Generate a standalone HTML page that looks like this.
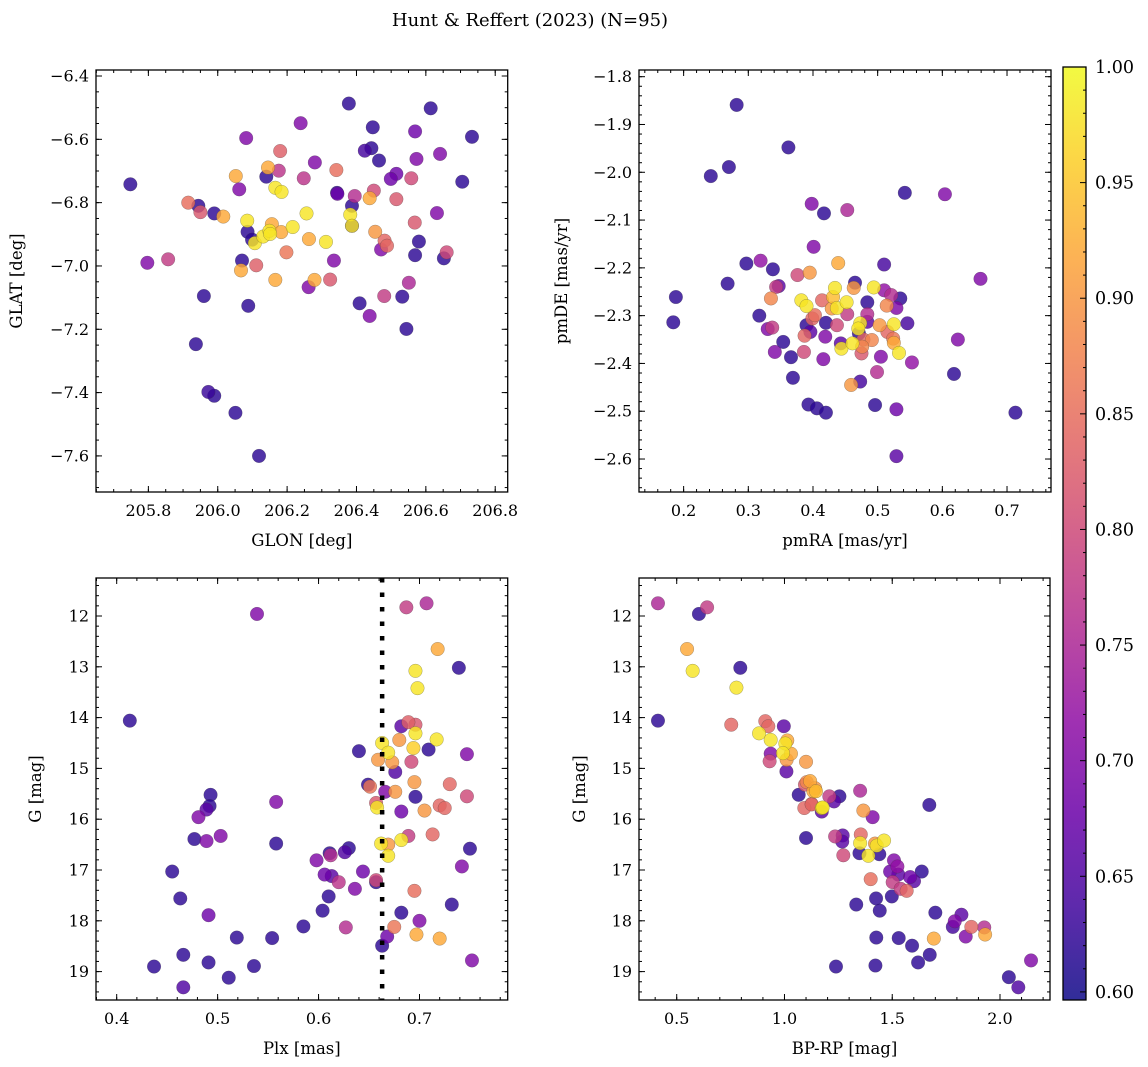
<!DOCTYPE html>
<html><head><meta charset="utf-8">
<style>
html,body{margin:0;padding:0;background:#fff;}
svg{display:block;font-family:"DejaVu Serif","Liberation Serif",serif;}
</style></head>
<body>
<svg id="fig" width="1148" height="1067" viewBox="0 0 1148 1067" xmlns="http://www.w3.org/2000/svg">
<text x="530" y="26" font-size="18" text-anchor="middle">Hunt &amp; Reffert (2023) (N=95)</text>
</svg>
<script>
// ---- Panel 1: GLON / GLAT ----
const p1Glon=[205.748,205.797,205.857,205.915,205.944,205.950,205.990,206.016,205.960,205.937,205.973,205.990,206.051,206.119,206.082,206.052,206.062,206.085,206.086,206.070,206.067,206.111,206.088,206.107,206.099,206.131,206.140,206.145,206.166,206.184,206.149,206.156,206.151,206.183,206.180,206.176,206.198,206.166,206.216,206.239,206.256,206.263,206.312,206.262,206.279,206.324,206.335,206.248,206.280,206.342,206.344,206.345,206.378,206.395,206.387,206.382,206.387,206.387,206.438,206.450,206.454,206.481,206.488,206.471,206.447,206.424,206.443,206.465,206.409,206.438,206.480,206.515,206.499,206.515,206.558,206.569,206.573,206.568,206.580,206.569,206.551,206.532,206.544,206.614,206.641,206.632,206.652,206.660,206.705,206.733];
const p1Glat=[-6.742,-6.990,-6.979,-6.800,-6.810,-6.830,-6.834,-6.844,-7.095,-7.247,-7.398,-7.410,-7.464,-7.600,-6.596,-6.716,-6.758,-6.857,-6.892,-6.983,-7.014,-6.998,-7.126,-6.928,-6.917,-6.907,-6.718,-6.689,-6.753,-6.766,-6.889,-6.868,-6.899,-6.893,-6.637,-6.699,-6.957,-7.044,-6.877,-6.549,-6.834,-6.915,-6.924,-7.067,-7.044,-7.043,-6.983,-6.723,-6.673,-6.697,-6.769,-6.772,-6.487,-6.779,-6.810,-6.838,-6.873,-6.873,-6.786,-6.762,-6.892,-6.920,-6.936,-6.948,-6.562,-6.636,-6.628,-6.667,-7.118,-7.158,-7.095,-6.709,-6.725,-6.789,-6.723,-6.575,-6.662,-6.863,-6.923,-6.966,-7.053,-7.097,-7.199,-6.502,-6.646,-6.833,-6.976,-6.957,-6.734,-6.592];
const p1Prob=[.62,.70,.78,.85,.62,.82,.62,.92,.62,.62,.63,.62,.62,.62,.70,.92,.70,.98,.62,.62,.92,.83,.62,.98,.62,.98,.62,.92,.98,.98,.98,.92,.98,.92,.83,.77,.86,.92,.98,.70,.98,.92,.98,.70,.92,.82,.70,.77,.70,.85,.62,.68,.62,.76,.62,.98,.62,.98,.92,.80,.90,.84,.84,.70,.62,.64,.62,.62,.62,.70,.78,.68,.68,.82,.80,.68,.70,.82,.62,.62,.75,.62,.62,.62,.70,.70,.62,.80,.62,.62];
// ---- Panel 2: pmRA / pmDE ----
const p2Pmra=[.282,.362,.270,.242,.398,.417,.453,.401,.297,.319,.338,.376,.395,.439,.268,.347,.343,.335,.188,.184,.382,.390,.414,.434,.431,.429,.437,.403,.399,.317,.330,.337,.390,.396,.387,.420,.437,.419,.354,.341,.386,.366,.416,.369,.443,.444,.393,.406,.420,.542,.604,.510,.465,.463,.494,.510,.521,.535,.529,.514,.484,.452,.453,.484,.484,.473,.470,.471,.503,.525,.546,.515,.524,.525,.491,.478,.476,.461,.475,.533,.505,.624,.553,.499,.473,.459,.618,.659,.496,.529,.713,.529];
const p2Pmde=[-1.859,-1.948,-1.989,-2.008,-2.066,-2.086,-2.079,-2.156,-2.191,-2.185,-2.203,-2.215,-2.210,-2.190,-2.233,-2.238,-2.240,-2.264,-2.261,-2.314,-2.268,-2.280,-2.268,-2.242,-2.261,-2.285,-2.284,-2.299,-2.306,-2.300,-2.328,-2.325,-2.320,-2.334,-2.342,-2.315,-2.320,-2.344,-2.355,-2.376,-2.376,-2.387,-2.391,-2.430,-2.358,-2.369,-2.486,-2.494,-2.503,-2.043,-2.046,-2.193,-2.231,-2.242,-2.241,-2.247,-2.257,-2.264,-2.284,-2.279,-2.272,-2.272,-2.297,-2.297,-2.313,-2.316,-2.327,-2.337,-2.320,-2.318,-2.316,-2.334,-2.348,-2.357,-2.351,-2.350,-2.365,-2.358,-2.379,-2.378,-2.386,-2.350,-2.398,-2.418,-2.438,-2.445,-2.422,-2.223,-2.487,-2.496,-2.503,-2.594];
const p2Prob=[.62,.62,.62,.62,.70,.62,.75,.70,.62,.72,.62,.80,.90,.92,.62,.66,.78,.88,.62,.62,.98,.98,.84,.98,.94,.90,.98,.85,.84,.62,.70,.78,.62,.66,.84,.62,.80,.70,.62,.70,.80,.62,.70,.62,.66,.98,.62,.62,.62,.62,.70,.64,.62,.90,.98,.72,.76,.62,.70,.88,.62,.98,.78,.76,.66,.98,.98,.62,.90,.98,.64,.84,.86,.92,.88,.84,.88,.98,.82,.98,.70,.70,.72,.76,.64,.90,.62,.70,.62,.68,.62,.66];
// ---- Panel 3: Plx / G ----
const p3Plx=[.539,.413,.493,.492,.489,.481,.477,.489,.503,.558,.558,.455,.463,.491,.519,.554,.466,.437,.491,.536,.511,.466,.687,.707,.718,.739,.696,.698,.682,.689,.696,.696,.680,.717,.694,.709,.640,.663,.669,.659,.673,.692,.747,.676,.695,.730,.649,.651,.666,.676,.696,.747,.657,.658,.682,.705,.720,.725,.689,.682,.713,.662,.669,.669,.750,.742,.630,.626,.611,.612,.598,.606,.613,.620,.644,.657,.657,.636,.695,.610,.604,.732,.682,.700,.585,.627,.675,.697,.720,.668,.663,.752];
const p3G=[11.96,14.06,15.52,15.74,15.81,15.96,16.39,16.43,16.33,15.66,16.48,17.03,17.56,17.89,18.33,18.34,18.67,18.90,18.82,18.89,19.12,19.31,11.83,11.75,12.65,13.02,13.08,13.42,14.17,14.09,14.14,14.31,14.44,14.43,14.60,14.63,14.66,14.50,14.69,14.83,14.88,14.87,14.72,15.07,15.27,15.31,15.32,15.36,15.46,15.46,15.56,15.55,15.68,15.77,15.85,15.83,15.73,15.78,16.33,16.41,16.30,16.48,16.50,16.72,16.58,16.93,16.57,16.65,16.67,16.71,16.81,17.09,17.12,17.24,17.03,17.20,17.24,17.37,17.41,17.52,17.80,17.68,17.84,18.00,18.11,18.13,18.12,18.27,18.35,18.31,18.49,18.78];
const p3Prob=[.70,.62,.62,.62,.66,.70,.62,.70,.70,.70,.62,.62,.62,.68,.62,.62,.62,.62,.62,.62,.62,.65,.78,.75,.92,.62,.98,.98,.66,.83,.82,.98,.90,.98,.96,.62,.62,.98,.98,.90,.90,.80,.70,.65,.90,.84,.62,.86,.70,.90,.62,.80,.82,.98,.68,.90,.84,.84,.78,.98,.84,.98,.90,.98,.62,.70,.62,.65,.62,.76,.70,.68,.66,.77,.68,.80,.62,.70,.85,.62,.62,.62,.62,.70,.62,.76,.86,.92,.92,.68,.62,.70];
const plxRef=[0.663];
// ---- Panel 4: BP-RP / G ----
const p4Color=[.413,.603,.641,.548,.574,.795,.777,.413,.753,.911,.925,.997,.882,.936,1.013,1.004,1.030,.993,.936,.931,1.010,1.009,1.100,1.103,1.095,1.066,1.134,1.126,1.092,1.173,1.100,1.119,1.142,1.146,1.126,1.173,1.177,1.208,1.255,1.230,1.351,1.366,1.409,1.672,1.235,1.270,1.268,1.273,1.354,1.351,1.348,1.389,1.428,1.462,1.420,1.440,1.508,1.524,1.490,1.528,1.583,1.601,1.637,1.502,1.539,1.567,1.400,1.333,1.425,1.498,1.442,1.700,1.821,1.790,1.781,1.867,1.927,1.931,1.841,1.693,1.426,1.530,1.592,1.674,1.620,1.239,1.422,2.041,2.085,2.144];
const p4G=[11.75,11.96,11.83,12.65,13.08,13.02,13.41,14.06,14.14,14.07,14.17,14.17,14.31,14.44,14.45,14.51,14.71,14.70,14.71,14.86,14.83,15.06,14.87,15.27,15.32,15.52,15.45,15.70,15.78,15.78,16.37,15.25,15.39,15.45,15.71,15.85,15.77,15.55,15.55,15.65,15.44,15.83,15.96,15.72,16.34,16.32,16.44,16.71,16.30,16.47,16.67,16.72,16.52,16.42,16.48,16.69,16.81,16.93,17.03,17.09,17.14,17.22,17.03,17.24,17.37,17.41,17.18,17.68,17.56,17.52,17.80,17.84,17.88,18.01,18.12,18.12,18.13,18.27,18.31,18.35,18.33,18.34,18.49,18.67,18.82,18.90,18.88,19.11,19.31,18.78];
const p4Prob=[.75,.62,.78,.92,.98,.62,.98,.62,.84,.84,.84,.66,.98,.98,.92,.98,.92,.98,.70,.80,.90,.66,.90,.88,.82,.62,.92,.84,.84,.98,.62,.92,.90,.94,.84,.66,.98,.78,.62,.66,.75,.90,.70,.62,.78,.66,.66,.80,.84,.98,.62,.98,.98,.98,.90,.62,.70,.72,.68,.66,.68,.66,.62,.78,.78,.84,.85,.62,.62,.62,.62,.62,.66,.70,.64,.84,.76,.92,.70,.92,.62,.62,.62,.62,.62,.62,.62,.62,.65,.70];
// ---- Colorbar ----
const cbTicks=[0.60,0.65,0.70,0.75,0.80,0.85,0.90,0.95,1.00];
const vmin=0.5965, vmax=1.0;

const NS="http://www.w3.org/2000/svg";
const svg=document.getElementById('fig');
function mk(tag,attrs,parent){const e=document.createElementNS(NS,tag);for(const k in attrs)e.setAttribute(k,attrs[k]);(parent||svg).appendChild(e);return e;}
const plasmaStops=[[13,8,135],[65,4,157],[106,0,168],[143,13,164],[177,42,144],[204,71,120],[225,100,98],[242,132,75],[252,166,54],[252,206,37],[240,249,33]];
function plasma(t){t=Math.max(0,Math.min(1,t));const f=t*10,i=Math.min(9,Math.floor(f)),r=f-i;const a=plasmaStops[i],b=plasmaStops[i+1];return 'rgb('+a.map((v,k)=>Math.round(v+(b[k]-v)*r)).join(',')+')';}
function fmt(v,d){const s=Math.abs(v).toFixed(d);return (v< -1e-9?'\u2212':'')+s;}

function panel(cfg){
  const {name,L,T,R,B,xd,yd,xMaj,xMin,yMaj,yMin,xDec,yDec,xs,ys,ps,xlabel,ylabel,ylabX}=cfg;
  const sx=v=>L+(v-xd[0])/(xd[1]-xd[0])*(R-L);
  const sy=v=>T+(v-yd[0])/(yd[1]-yd[0])*(B-T);
  const g=mk('g',{});
  
  
  const clipId=name+'-clip';
  const cp=mk('clipPath',{id:clipId},g);mk('rect',{x:L,y:T,width:R-L,height:B-T},cp);
  const pts=mk('g',{'clip-path':'url(#'+clipId+')'},g);
  
  
  const idx=xs.map((_,i)=>i).sort((a,b)=>ps[a]-ps[b]);
  idx.forEach(i=>{
    const c=mk('circle',{cx:sx(xs[i]).toFixed(2),cy:sy(ys[i]).toFixed(2),r:6.8,fill:plasma((ps[i]-vmin)/(vmax-vmin)),'fill-opacity':0.82,stroke:'rgba(60,60,60,0.45)','stroke-width':0.5},pts);
    
    
  });
  if(cfg.extra)cfg.extra(g,sx,sy);
  const tk=mk('g',{stroke:'#000','stroke-width':1},g);
  const lo=(a,b)=>Math.min(a,b),hi=(a,b)=>Math.max(a,b);
  function ticksFor(d,step){const out=[];const s=Math.ceil(lo(d[0],d[1])/step-1e-6);for(let k=s;k*step<=hi(d[0],d[1])+1e-9;k++)out.push(+(k*step).toFixed(6));return out;}
  ticksFor(xd,xMin).forEach(v=>{const x=sx(v);mk('line',{x1:x,x2:x,y1:B,y2:B-3},tk);mk('line',{x1:x,x2:x,y1:T,y2:T+3},tk);});
  ticksFor(yd,yMin).forEach(v=>{const y=sy(v);mk('line',{x1:L,x2:L+3,y1:y,y2:y},tk);mk('line',{x1:R,x2:R-3,y1:y,y2:y},tk);});
  const labs=mk('g',{'font-size':16,fill:'#000'},g);
  ticksFor(xd,xMaj).forEach(v=>{const x=sx(v);mk('line',{x1:x,x2:x,y1:B,y2:B-6},tk);mk('line',{x1:x,x2:x,y1:T,y2:T+6},tk);
    const t=mk('text',{x:x,y:B+24,'text-anchor':'middle'},labs);t.textContent=fmt(v,xDec);
    
    });
  ticksFor(yd,yMaj).forEach(v=>{const y=sy(v);mk('line',{x1:L,x2:L+6,y1:y,y2:y},tk);mk('line',{x1:R,x2:R-6,y1:y,y2:y},tk);
    const t=mk('text',{x:L-7,y:y+5.5,'text-anchor':'end'},labs);t.textContent=fmt(v,yDec);
    
    });
  const fr=mk('rect',{x:L,y:T,width:R-L,height:B-T,fill:'none',stroke:'#000','stroke-width':1.3},g);
  
  
  const xl=mk('text',{x:(L+R)/2,y:B+54,'text-anchor':'middle','font-size':16.5},g);xl.textContent=xlabel;
  
  
  const ym=(T+B)/2;
  const yl=mk('text',{x:ylabX,y:ym,'text-anchor':'middle','font-size':16.5,transform:'rotate(-90 '+ylabX+' '+ym+')'},g);yl.textContent=ylabel;
  
  
}

panel({name:'glon-glat-panel',L:96,T:70,R:507.7,B:492,xd:[205.649,206.836],yd:[-6.381,-7.714],xMaj:0.2,xMin:0.05,yMaj:0.2,yMin:0.05,xDec:1,yDec:1,xs:p1Glon,ys:p1Glat,ps:p1Prob,xlabel:'GLON [deg]',ylabel:'GLAT [deg]',ylabX:22});
panel({name:'pm-panel',L:639,T:70,R:1051,B:492,xd:[0.131,0.768],yd:[-1.786,-2.669],xMaj:0.1,xMin:0.02,yMaj:0.1,yMin:0.02,xDec:1,yDec:1,xs:p2Pmra,ys:p2Pmde,ps:p2Prob,xlabel:'pmRA [mas/yr]',ylabel:'pmDE [mas/yr]',ylabX:567});
panel({name:'plx-g-panel',L:96,T:578,R:507.7,B:1000,xd:[0.3795,0.7874],yd:[11.252,19.559],xMaj:0.1,xMin:0.02,yMaj:1,yMin:0.2,xDec:1,yDec:0,xs:p3Plx,ys:p3G,ps:p3Prob,xlabel:'Plx [mas]',ylabel:'G [mag]',ylabX:41,
  extra:(g,sx,sy)=>{plxRef.forEach(v=>{const l=mk('line',{x1:sx(v),x2:sx(v),y1:578,y2:1000,stroke:'#000','stroke-width':4.5,'stroke-dasharray':'4.5 10'},g);
    
    });}});
panel({name:'cmd-panel',L:639,T:578,R:1050,B:1000,xd:[0.325,2.232],yd:[11.252,19.559],xMaj:0.5,xMin:0.1,yMaj:1,yMin:0.2,xDec:1,yDec:0,xs:p4Color,ys:p4G,ps:p4Prob,xlabel:'BP-RP [mag]',ylabel:'G [mag]',ylabX:585});

(function(){
  const L=1063,R=1086,T=67,B=1000;
  const g=mk('g',{});
  
  
  const defs=mk('defs',{},g);
  const lg=mk('linearGradient',{id:'cbgrad',x1:0,y1:1,x2:0,y2:0},defs);
  for(let i=0;i<=20;i++){mk('stop',{offset:(i/20),'stop-color':plasma(i/20),'stop-opacity':0.85},lg);}
  mk('rect',{x:L,y:T,width:R-L,height:B-T,fill:'url(#cbgrad)'},g);
  const s=v=>B-(v-vmin)/(vmax-vmin)*(B-T);
  for(let k=60;k<=100;k++){const v=k/100,y=s(v);const major=k%5===0;mk('line',{x1:R,x2:R-(major?6:3),y1:y,y2:y,stroke:'#000','stroke-width':1},g);}
  cbTicks.forEach(v=>{const t=mk('text',{x:R+9,y:s(v)+6,'font-size':17.5},g);t.textContent=v.toFixed(2);
    
    });
  mk('rect',{x:L,y:T,width:R-L,height:B-T,fill:'none',stroke:'#000','stroke-width':1.3},g);
})();
</script>
</body></html>
